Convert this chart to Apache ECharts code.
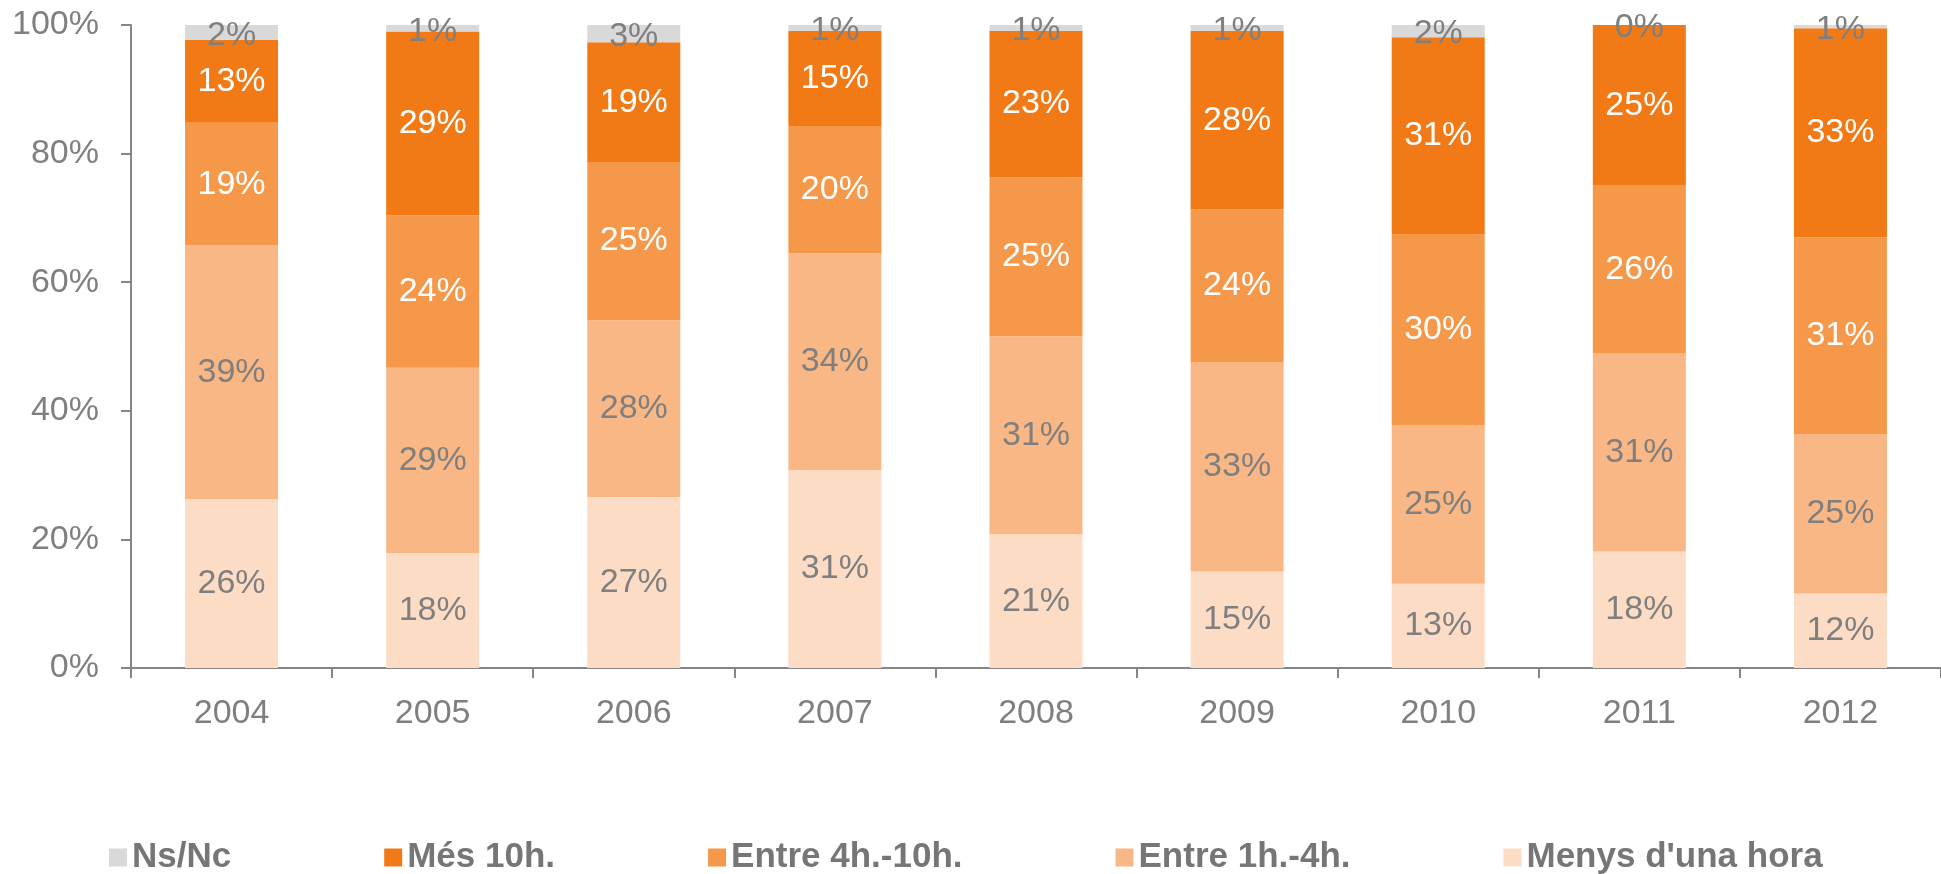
<!DOCTYPE html>
<html>
<head>
<meta charset="utf-8">
<script src="https://cdn.jsdelivr.net/npm/echarts@6/dist/echarts.min.js"></script>
<style>
  html, body { margin: 0; padding: 0; background: #fff; }
  #chart { width: 1941px; height: 874px; }
</style>
</head>
<body>
<div id="chart"></div>
<script>
// anys
const years = ['2004', '2005', '2006', '2007', '2008', '2009', '2010', '2011', '2012']

// percentatges llegits del gràfic (de baix a dalt)
const menysUnaHora = [26.3, 17.9, 26.6, 30.8, 20.8, 15.0, 13.1, 18.1, 11.6]
const entre1h4h = [39.4, 28.8, 27.5, 33.7, 30.8, 32.6, 24.6, 30.9, 24.8]
const entre4h10h = [19.1, 23.7, 24.6, 19.8, 24.7, 23.7, 29.8, 26.0, 30.6]
const mes10h = [12.9, 28.6, 18.6, 14.8, 22.8, 27.8, 30.6, 25.0, 32.5]
const nsNc = [2.3, 1.0, 2.7, 0.9, 0.9, 0.9, 1.9, 0.0, 0.5]

const yTicks = [0, 20, 40, 60, 80, 100]

const gray = '#7f7f7f'
const font = 'Liberation Sans, Arial, sans-serif'

const chart = echarts.init(document.getElementById('chart'))

function makeSeries(name, data, color, labelColor, offset) {
  return {
    name: name,
    type: 'bar',
    stack: 'total',
    barWidth: 93,
    data: data,
    itemStyle: { color: color },
    label: {
      show: true,
      position: 'inside',
      offset: offset || [0, 0],
      color: labelColor,
      fontSize: 34,
      fontFamily: font,
      formatter: function (p) { return Math.round(p.value) + '%' }
    }
  }
}

const option = {
  animation: false,
  grid: {
    left: 131,
    top: 25,
    height: 643,
    width: 1822.5
  },
  legend: {
    data: ['Ns/Nc', 'Més 10h.', 'Entre 4h.-10h.', 'Entre 1h.-4h.', "Menys d'una hora"],
    left: 109,
    top: 840,
    padding: 0,
    icon: 'rect',
    itemWidth: 18,
    itemHeight: 18,
    itemGap: 153,
    textStyle: {
      color: '#767676',
      fontSize: 35,
      fontWeight: 'bold',
      fontFamily: font
    }
  },
  xAxis: {
    type: 'category',
    data: years,
    axisLine: { lineStyle: { color: '#868686', width: 2 } },
    axisTick: { show: true, length: 10, lineStyle: { color: '#868686', width: 2 } },
    axisLabel: { color: gray, fontSize: 34, fontFamily: font, margin: 29 }
  },
  yAxis: {
    type: 'value',
    min: yTicks[0],
    max: yTicks[yTicks.length - 1],
    interval: 20,
    splitLine: { show: false },
    axisLine: { show: true, lineStyle: { color: '#868686', width: 2 } },
    axisTick: { show: true, length: 10, lineStyle: { color: '#868686', width: 2 } },
    axisLabel: {
      color: gray,
      fontSize: 34,
      fontFamily: font,
      margin: 32,
      formatter: '{value}%'
    }
  },
  series: [
    makeSeries("Menys d'una hora", menysUnaHora, '#fcdcc4', gray),
    makeSeries('Entre 1h.-4h.', entre1h4h, '#f8b784', gray),
    makeSeries('Entre 4h.-10h.', entre4h10h, '#f59849', '#ffffff'),
    makeSeries('Més 10h.', mes10h, '#f27a16', '#ffffff'),
    makeSeries('Ns/Nc', nsNc, '#d9d9d9', gray, [0, 3])
  ]
}

chart.setOption(option)
</script>
</body>
</html>
